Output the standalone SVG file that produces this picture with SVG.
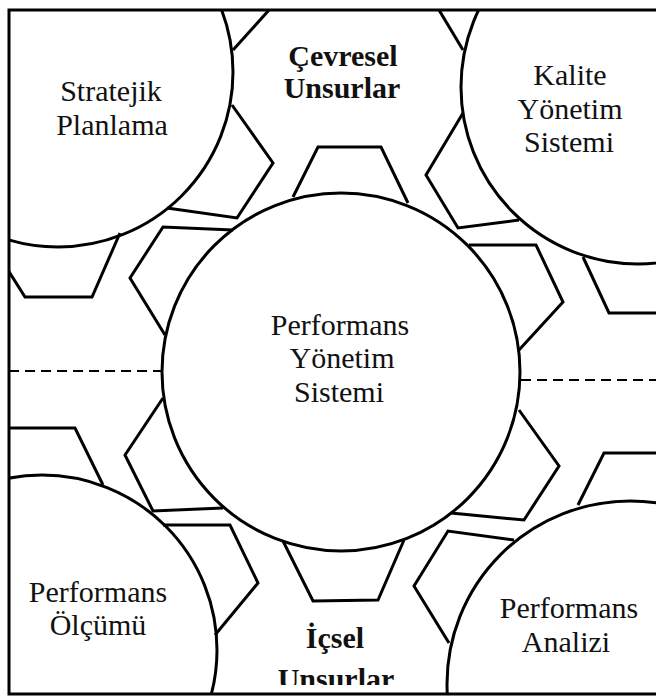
<svg xmlns="http://www.w3.org/2000/svg" width="656" height="698" viewBox="0 0 656 698">
<style>
.ln{fill:none;stroke:#000;stroke-width:3;stroke-linejoin:miter;stroke-linecap:butt}
.dash{fill:none;stroke:#000;stroke-width:2;stroke-dasharray:10 6}
.t{font-family:"Liberation Serif","Times New Roman",serif;font-size:30px;text-anchor:middle;fill:#111}
.b{font-weight:bold}
</style>
<defs>
<clipPath id="frameClip"><rect x="9" y="10" width="647" height="684"/></clipPath>
<clipPath id="botClip"><rect x="0" y="0" width="656" height="685"/></clipPath>
</defs>
<rect x="0" y="0" width="656" height="698" fill="#fff"/>
<g clip-path="url(#frameClip)">
<g id="stratejik-planlama">
<circle class="ln" cx="58" cy="72" r="175"/>
<polyline class="ln" points="233,50 278,0"/>
<polyline class="ln" points="232,105 273,163 237,218 167,208"/>
<polyline class="ln" points="120,233 92,297 25,297 8,270 -5,250"/>
<text class="t" x="111" y="101">Stratejik</text>
<text class="t" x="112" y="135">Planlama</text>
</g>
<g id="kalite-yonetim-sistemi">
<circle class="ln" cx="638" cy="87" r="177"/>
<polyline class="ln" points="463,50 433,0"/>
<polyline class="ln" points="463,113 426,175 458,228 519,220"/>
<polyline class="ln" points="583,257 609,313 670,313"/>
<text class="t" x="570" y="85">Kalite</text>
<text class="t" x="570" y="119">Yönetim</text>
<text class="t" x="569" y="152">Sistemi</text>
</g>
<g id="performans-yonetim-sistemi">
<circle class="ln" cx="341" cy="372" r="179"/>
<polyline class="ln" points="293,197 318,147 381,147 408,203"/>
<polyline class="ln" points="233,230 163,227 130,278 165,335"/>
<polyline class="ln" points="469,245 536,245 563,302 519,350"/>
<polyline class="ln" points="163,398 125,455 153,511 223,508"/>
<polyline class="ln" points="519,410 559,466 524,520 451,513"/>
<polyline class="ln" points="283,541 313,601 378,600 404,540"/>
<text class="t" x="340" y="335">Performans</text>
<text class="t" x="342" y="368">Yönetim</text>
<text class="t" x="339" y="402">Sistemi</text>
</g>
<g id="performans-olcumu">
<circle class="ln" cx="42" cy="650" r="175"/>
<polyline class="ln" points="-10,428 75,428 103,485"/>
<polyline class="ln" points="163,525 230,525 258,583 215,635"/>
<text class="t" x="98" y="602">Performans</text>
<text class="t" x="98" y="635">Ölçümü</text>
</g>
<g id="performans-analizi">
<circle class="ln" cx="630" cy="684" r="183"/>
<polyline class="ln" points="578,505 604,453 670,453"/>
<polyline class="ln" points="514,540 448,531 414,586 449,643"/>
<text class="t" x="569" y="618">Performans</text>
<text class="t" x="566" y="652">Analizi</text>
</g>
<g id="cevresel-unsurlar">
<text class="t b" x="343" y="66">Çevresel</text>
<text class="t b" x="342" y="98">Unsurlar</text>
</g>
<g id="icsel-unsurlar" clip-path="url(#botClip)">
<text class="t b" x="335" y="648">İçsel</text>
<text class="t b" x="336" y="689">Unsurlar</text>
</g>
</g>
<g id="connectors">
<line class="dash" x1="9" y1="371" x2="162" y2="371"/>
<line class="dash" x1="521" y1="380" x2="656" y2="380"/>
</g>
<path class="ln" d="M656,10 H9 V694 H656"/>
</svg>
